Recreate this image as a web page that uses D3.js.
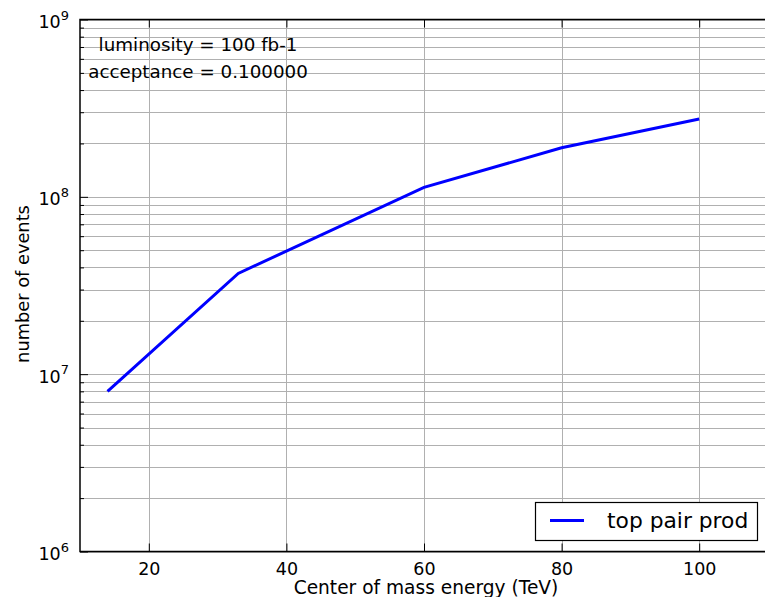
<!DOCTYPE html>
<html>
<head>
<meta charset="utf-8">
<script src="https://cdn.jsdelivr.net/npm/d3@7"></script>
<style>
  html, body { margin: 0; padding: 0; background: #fff; }
  svg { display: block; font-family: "DejaVu Sans", sans-serif; }
</style>
</head>
<body>
<svg id="chart" width="765" height="597"></svg>
<script>
// Collision energies (TeV) and expected top-pair event counts
const energies = [14, 33, 60, 80, 100];
const events = [8.0e6, 3.7e7, 1.13e8, 1.89e8, 2.75e8];
const xTicks = [20, 40, 60, 80, 100];
const yDecades = [1e6, 1e7, 1e8, 1e9];
const seriesName = "top pair prod";
const notes = ["luminosity = 100 fb-1", "acceptance = 0.100000"];

const svg = d3.select("#chart");
const margin = { left: 80, top: 19.5, right: 768, bottom: 551.5 };

const x = d3.scaleLinear().domain([10, 110]).range([margin.left, margin.right]);
const y = d3.scaleLog().domain([1e6, 1e9]).range([margin.bottom, margin.top]);

// minor positions 2..9 within each decade
const minor = [];
for (let d = 1e6; d < 1e9; d *= 10) for (let k = 2; k <= 9; k++) minor.push(d * k);

const grid = svg.append("g").attr("stroke", "#b0b0b0").attr("stroke-width", 1);
minor.concat(yDecades).forEach(v => {
  grid.append("line").attr("x1", margin.left).attr("x2", margin.right)
    .attr("y1", Math.round(y(v)) + 0.5).attr("y2", Math.round(y(v)) + 0.5);
});
xTicks.forEach(v => {
  grid.append("line").attr("y1", margin.top).attr("y2", margin.bottom)
    .attr("x1", Math.round(x(v)) + 0.5).attr("x2", Math.round(x(v)) + 0.5);
});

// axes with inward ticks
const bottomAxis = d3.axisBottom(x).tickValues(xTicks).tickSizeInner(-8).tickSizeOuter(0).tickPadding(11);
const gx = svg.append("g").attr("transform", `translate(0,${margin.bottom})`).call(bottomAxis);
gx.selectAll("text").attr("font-size", 17.5).attr("fill", "#000").attr("font-family", "DejaVu Sans");
gx.select(".domain").remove();

const topAxis = d3.axisTop(x).tickValues(xTicks).tickSizeInner(-8).tickSizeOuter(0).tickFormat("");
const gxt = svg.append("g").attr("transform", `translate(0,${margin.top})`).call(topAxis);
gxt.select(".domain").remove();

const leftAxis = d3.axisLeft(y).tickValues(yDecades).tickSizeInner(-8).tickSizeOuter(0).tickFormat("");
const gy = svg.append("g").attr("transform", `translate(${margin.left},0)`).call(leftAxis);
gy.select(".domain").remove();
const leftMinor = d3.axisLeft(y).tickValues(minor).tickSizeInner(-4).tickSizeOuter(0).tickFormat("");
const gym = svg.append("g").attr("transform", `translate(${margin.left},0)`).call(leftMinor);
gym.select(".domain").remove();

// y labels as 10 with superscript exponent
yDecades.forEach(v => {
  const t = svg.append("text").attr("x", margin.left - 11).attr("y", y(v) + 8.5)
    .attr("text-anchor", "end").attr("font-size", 17.5).attr("fill", "#000");
  t.append("tspan").text("10");
  t.append("tspan").attr("dy", -8.5).attr("font-size", 13).text(Math.round(Math.log10(v)));
});

// frame
svg.append("rect").attr("x", margin.left).attr("y", margin.top)
  .attr("width", margin.right - margin.left).attr("height", margin.bottom - margin.top)
  .attr("fill", "none").attr("stroke", "#000").attr("stroke-width", 1.5);

// data line
const line = d3.line().x((d, i) => x(energies[i])).y(d => y(d));
svg.append("path").datum(events).attr("d", line)
  .attr("fill", "none").attr("stroke", "#0000ff").attr("stroke-width", 3);

// notes
notes.forEach((s, i) => {
  svg.append("text").attr("x", 198).attr("y", 51 + i * 26.5)
    .attr("text-anchor", "middle").attr("font-size", 18.3).attr("fill", "#000").text(s);
});

// axis titles
svg.append("text").attr("x", 426).attr("y", 594).attr("text-anchor", "middle")
  .attr("font-size", 18.6).attr("fill", "#000").text("Center of mass energy (TeV)");
svg.append("text").attr("transform", "translate(29,284) rotate(-90)").attr("text-anchor", "middle")
  .attr("font-size", 17.8).attr("fill", "#000").text("number of events");

// legend
const lg = svg.append("g");
lg.append("rect").attr("x", 535.5).attr("y", 502.5).attr("width", 222).attr("height", 38)
  .attr("fill", "#fff").attr("stroke", "#000").attr("stroke-width", 1.2);
lg.append("line").attr("x1", 550).attr("x2", 584).attr("y1", 520.5).attr("y2", 520.5)
  .attr("stroke", "#0000ff").attr("stroke-width", 3);
lg.append("text").attr("x", 607).attr("y", 528).attr("font-size", 21.8).attr("fill", "#000").text(seriesName);
</script>
</body>
</html>
